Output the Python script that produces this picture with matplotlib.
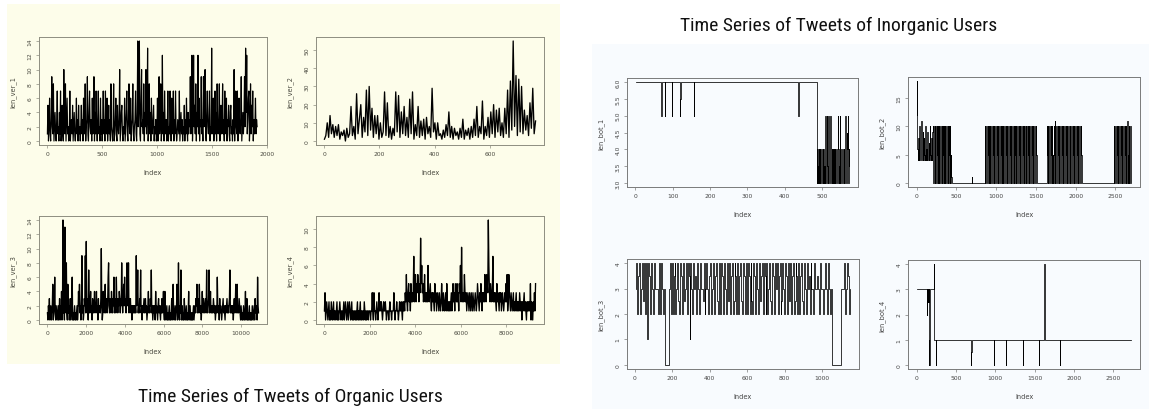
import matplotlib
matplotlib.use("Agg")
import matplotlib.pyplot as plt
import numpy as np
from matplotlib.patches import Rectangle
from matplotlib import font_manager as fm

# ---------------- data ----------------
# Organic users (uniformly spaced samples over the index range)
ver1_n = 1910
ver1 = [1,5,0,2,6,1,0,3,9,2,1,8,0,2,4,1,0,3,7,1,
        2,0,4,1,7,0,2,5,1,0,10,2,1,8,0,3,6,1,2,0,
        1,7,0,2,3,1,5,0,2,4,1,0,2,6,1,3,0,5,1,2,
        0,2,5,1,3,0,6,2,1,8,0,2,3,9,1,0,4,7,2,1,
        3,0,6,1,2,9,0,4,1,7,2,0,3,7,1,2,0,6,1,3,
        0,2,7,1,3,0,7,2,1,6,0,2,5,1,3,0,8,2,1,0,
        2,8,0,1,3,6,1,0,5,2,1,3,10,0,2,4,5,1,0,2,
        1,6,0,2,4,7,1,0,3,8,2,1,6,0,2,3,8,1,0,2,
        3,7,1,0,4,14,2,5,14,1,0,6,10,2,3,1,8,0,4,2,
        10,1,3,13,0,2,8,1,4,0,6,2,1,3,5,0,2,1,3,0,
        1,6,0,2,9,1,3,8,0,2,12,1,4,0,7,2,1,3,0,2,
        7,0,2,1,7,3,0,6,1,2,7,0,3,1,7,2,0,1,3,2,
        1,7,0,2,4,1,3,0,2,1,5,0,3,1,6,2,0,4,1,3,
        2,9,1,4,12,0,3,12,2,5,1,8,0,4,2,12,1,6,0,3,
        2,9,1,3,0,9,2,5,10,1,0,4,7,2,1,3,7,0,2,1,
        13,1,3,6,0,2,7,1,4,0,8,2,1,3,8,0,2,5,1,2,
        8,1,3,0,7,2,1,6,0,3,2,5,1,0,4,5,1,2,0,3,
        1,10,0,3,7,2,1,7,0,4,6,2,1,3,9,0,2,4,1,3,
        9,2,13,4,12,1,3,6,7,0,2,8,1,5,2,7,0,3,1,2,
        6,1,3,2]

ver2_n = 765
ver2 = [1,3,10,2,14,4,9,2,8,3,
        9,1,5,3,6,0,7,2,4,19,
        3,8,1,26,4,12,20,2,13,5,
        28,3,30,6,18,2,14,4,14,1,
        10,2,5,27,3,21,2,8,1,7,
        3,27,5,25,2,16,4,19,3,13,
        2,23,4,27,1,9,3,19,2,11,
        3,12,1,13,4,8,2,29,5,10,
        1,10,3,4,1,6,2,9,3,16,
        2,8,1,7,3,5,1,7,2,12,
        1,6,3,7,1,8,2,12,3,19,
        2,8,4,22,1,8,3,13,2,16,
        4,20,2,17,5,18,3,10,2,18,
        4,28,2,33,6,55,8,36,3,34,
        5,30,4,17,6,14,3,21,7,29,
        4,11]

ver3_n = 10900
ver3 = [1,0,2,1,3,0,1,2,0,1,2,5,0,1,2,6,1,0,2,1,
        0,1,2,0,1,3,0,2,1,4,0,2,14,1,3,0,13,2,1,8,
        1,0,5,1,2,0,1,3,0,1,2,6,0,1,0,1,2,0,1,0,
        1,2,0,1,4,2,5,1,2,0,3,9,1,2,0,1,3,2,9,1,
        11,2,1,3,0,7,2,1,2,4,1,2,0,3,2,1,2,4,1,2,
        2,4,1,2,0,3,1,2,2,1,3,10,2,0,1,4,2,1,2,5,
        1,2,3,1,2,6,8,2,1,3,2,1,4,2,1,3,2,6,1,2,
        3,1,6,2,3,1,3,2,4,3,1,3,2,8,3,1,3,5,2,6,
        2,3,1,3,8,2,3,8,1,3,2,3,1,2,0,2,1,2,1,2,
        1,2,1,9,2,3,7,1,2,1,3,2,7,1,2,0,2,1,2,3,
        1,2,3,1,2,0,1,2,4,1,2,1,3,2,7,1,2,0,1,2,
        1,2,0,4,1,2,1,0,2,3,1,2,1,0,2,1,3,1,2,4,
        1,0,4,1,0,1,2,0,1,0,1,2,0,1,0,1,3,0,1,5,
        1,0,1,2,0,1,2,5,0,1,8,1,0,2,1,7,0,1,2,0,
        1,0,3,1,0,1,2,0,1,0,1,4,0,1,2,0,1,0,1,0,
        1,2,0,1,2,1,3,2,5,1,2,3,1,5,2,1,2,0,2,4,
        2,1,3,2,1,2,3,1,7,2,1,2,3,7,1,2,4,1,2,1,
        2,1,3,2,1,2,0,1,2,1,6,2,1,2,0,3,1,2,1,0,
        1,2,3,1,2,1,0,2,1,2,3,1,2,1,2,3,7,1,2,1,
        2,1,2,0,2,3,1,2,5,1,2,5,1,2,1,3,2,1,0,2,
        1,0,1,0,2,1,0,1,4,0,1,3,0,1,0,1,2,0,1,0,
        1,0,2,1,0,1,2,0,3,1,2,1,0,6,2,1]

ver4_n = 9300
ver4 = [1,3,0,1,2,1,0,1,2,0,1,0,2,1,0,1,2,0,1,1,
        0,1,2,0,1,0,1,2,1,0,1,1,0,1,2,0,1,2,1,0,
        1,2,0,1,2,1,0,1,2,0,1,0,1,1,0,1,0,1,2,0,
        1,0,1,2,0,1,0,1,1,0,2,1,0,1,0,1,1,0,1,1,
        1,0,1,1,3,1,0,3,1,1,0,1,2,1,0,1,3,1,2,1,
        2,1,0,1,2,1,1,2,1,0,1,1,1,0,1,2,1,1,0,1,
        1,1,3,1,0,1,1,2,1,1,0,1,2,1,1,2,1,0,2,1,
        2,1,3,2,5,2,1,3,4,2,3,1,4,2,3,2,3,7,2,3,
        5,2,4,3,5,4,2,4,3,9,4,6,3,4,2,3,5,2,3,2,
        3,2,6,3,2,3,4,2,1,3,2,3,2,1,4,2,3,1,2,3,
        2,1,3,2,1,2,4,2,1,3,2,1,2,3,1,4,2,1,2,1,
        2,1,2,3,1,2,4,2,3,1,4,3,2,4,2,3,1,4,3,6,
        2,8,3,2,3,2,5,3,2,3,1,2,3,2,1,3,2,1,3,2,
        1,3,2,1,2,3,2,1,2,4,3,2,1,3,2,4,2,1,3,2,
        3,2,5,3,2,5,4,3,11,6,3,2,4,3,2,3,7,2,3,2,
        3,2,1,4,2,3,2,1,3,2,3,1,2,3,2,1,2,3,2,4,
        2,5,1,2,5,3,2,1,3,2,1,2,3,1,2,1,2,3,1,2,
        1,2,1,3,2,1,2,0,2,1,2,3,1,2,1,0,2,1,2,1,
        2,1,4,0,2,1,0,2,1,3,1,4]

# Inorganic users
bot1_head_idx = [1, 69, 70, 71, 72, 73, 79, 80, 81, 97, 98, 99, 100,
                 119, 120, 121, 122, 156, 157, 158, 159, 436, 437, 438, 439, 486]
bot1_head_val = [6, 6, 5, 6, 5.5, 6, 6, 5, 6, 6, 5, 5.5, 6,
                 6, 5, 5.5, 6, 6, 5, 5.5, 6, 6, 5, 5.5, 6, 6]
bot1_tail_start = 487
bot1_tail = [3,4,3,3.5,4,3,4,3,3,4,3.5,3,4,3,4,3,3,4,3,3.5,
             4,3,5,3,4,3,5,3.5,4,3,5,3,4,3,3.5,5,3,4,3,3.5,
             4,3,4,3,3.5,4,3,3,4,3,3.5,4,3,4,3,5,3,4,3,3.5,
             5,3,4,3,4,3,3.5,4,3,4,3,3,4,3,4,5,3,4,3,4.5,
             3,4,5,3,4,3.5,3.5]

bot2_a_rng = (1, 205)
bot2_a = [12,18,6,4,8,4,10,5,4,8,4,11,5,4,9,4,8,5,4,10,
          4,6,8,4,9,5,4,7,4,10,5,4,8,4,9,5]
bot2_b_rng = (210, 445)
bot2_b = [10,0,5,0, 10,0,5,0, 10,0,5,0, 10,0,5,0, 10,0,5,0,
          10,0,5,0, 10,0,5,0, 10,0,5,0, 10,0,5,0, 10,0,5,0,
          10,0,5,0, 10,0,5,0, 10,0,5,0, 10,0,5,0, 10,0,5,0,
          4,1,0]
bot2_c_idx = [450, 698, 700, 702, 858]
bot2_c_val = [0, 0, 1, 0, 0]
bot2_d_rng = (862, 1510)
bot2_d = [10,0,5,0, 10,0,5,0, 10,0,5,0, 10,0,5,0, 10,0,5,0,
          10,0,5,0, 10,0,5,0, 10,0,5,0, 10,0,5,0, 10,0,5,0,
          10,0,5,0, 10,0,5,0, 10,0,5,0, 10,0,5,0, 10,0,5,0,
          10,0,5,0, 10,0,5,0, 10,0,5,0, 10,0,5,0, 10,0,5,0,
          10,0,5,0, 10,0,5,0, 10,0,5,0, 10,0,5,0, 10,0,5,0,
          10,0,5,0, 10,0,5,0, 10,0,5,0, 10,0,5,0, 10,0,5,0,
          10,0,5,0, 10,0,5,0, 10,0,5,0, 10,0,5,0, 10,0,5,0,
          10,0,5,0, 10,0,5,0, 10,0,5,0, 10,0,5,0, 10,0,5,0]
bot2_e_idx = [1512, 1636]
bot2_e_val = [0, 0]
bot2_f_rng = (1638, 2078)
bot2_f = [10,0,5,0, 10,0,5,0, 10,0,5,0, 10,0,5,0, 10,0,5,0,
          10,0,5,0, 11,0,5,0, 10,0,5,0, 10,0,5,0, 10,0,5,0,
          10,0,5,0, 10,0,5,0, 10,0,5,0, 10,0,5,0, 10,0,5,0,
          10,0,5,0, 10,0,5,0, 10,0,5,0, 10,0,5,0, 10,0,5,0,
          10,0,5,0, 10,0,5,0, 10,0,5,0, 10,0,5,0, 10,0,5,0,
          10,0,5,0]
bot2_g_idx = [2080, 2478]
bot2_g_val = [0, 0]
bot2_h_rng = (2482, 2700)
bot2_h = [10,0,5,0, 10,0,5,0, 10,0,5,0, 10,0,5,0, 10,0,5,0,
          10,0,5,0, 10,0,5,0, 10,0,5,0, 10,0,5,0, 10,0,5,0,
          11,0,5,0, 10,0,5,0, 10,0,5,0]

bot3_rng = (5, 1150)
bot3 = [3,4,2,3.5,4,2,3,4,2.5,4,3.5,2,4,1,4,3.5,2,4,3,2,
        4,3,3,3,2,4,3,2,4,3,2,3,0,0,0,0,3,4,2,4,
        2,3.5,4,2,3,4,2.5,2,4,3.5,2,4,2.5,3,4,2,4,3.5,1,4,
        3,2,4,3,3.5,2,4,3,2,4,3,3,2.5,4,2,3,4,3,2,3.5,
        4,2,3,4,2,3.5,4,2.5,2,4,3,2,4,3.5,2,4,3,2,4,2.5,
        4,2,3.5,4,2,2.5,4,3.5,2,4,2,3.5,4,2.5,2,4,3.5,2,4,2,
        4,3.5,2,4,2.5,2,4,3.5,2,4,3,2,4,2.5,3.5,4,2,4,3.5,2,
        4,2,3,4,2.5,2,4,3.5,2,4,3,4,2,3.5,4,2,2.5,4,3,2,
        4,3.5,2,4,2.5,4,2,3.5,4,2,2.5,4,3.5,2,4,2,3.5,4,2.5,2,
        4,3,2,4,3,3.5,2,4,3,3,2,4,3,3,3.5,3,2,4,3,3,
        2,3,4,3,3,2,4,3,2,3,0,0,0,0,0,0,0,0,0,0,
        3,3,3,4,2,3,4,3.5,2,3]

bot4_idx = [1, 128, 130, 132, 135, 137, 142, 145, 152, 155, 160, 162, 164, 166,
            224, 226, 228, 246, 248, 250, 692, 694, 696, 698, 700, 978, 980, 982,
            1133, 1135, 1137, 1139, 1352, 1354, 1356, 1552, 1554, 1556,
            1624, 1626, 1628, 1824, 1826, 1828, 2730]
bot4_val = [3, 3, 2.5, 3, 2, 3, 2.5, 3, 2.5, 3, 0, 1, 0, 3,
            3, 4, 1, 1, 0, 1, 1, 0.5, 0, 0.5, 1, 1, 0, 1,
            1, 0.5, 0, 1, 1, 0, 1, 1, 0, 1,
            1, 4, 1, 1, 0, 1, 1]

titles = ["Time Series of Tweets of Organic Users",
          "Time Series of Tweets of Inorganic Users"]

# ---------------- figure ----------------
W, H = 1149, 410
fig = plt.figure(figsize=(W / 100, H / 100), dpi=100)
fig.patch.set_facecolor("white")


def rect_px(l, t, r, b):
    return [l / W, 1 - b / H, (r - l) / W, (b - t) / H]


fig.add_artist(Rectangle((7 / W, 1 - 365 / H), (560 - 7) / W, (365 - 5) / H,
                         transform=fig.transFigure, facecolor="#FDFDEA",
                         edgecolor="none", zorder=0))
fig.add_artist(Rectangle((592 / W, 0), (W - 592) / W, (H - 45) / H,
                         transform=fig.transFigure, facecolor="#F8FBFE",
                         edgecolor="none", zorder=0))


def rplot(box, segments, ylabel, xticks, yticks, yticklabels, boxcol, txtcol,
          steps=False, lw=0.5):
    ax = fig.add_axes(rect_px(*box))
    ax.set_facecolor("none")
    for xs, ys in segments:
        ax.plot(xs, ys, color="black", lw=lw,
                drawstyle="steps-mid" if steps else "default")
    ax.margins(x=0.04, y=0.04)
    ax.set_xticks(xticks)
    ax.set_xticklabels([str(t) for t in xticks])
    ax.set_yticks(yticks)
    ax.set_yticklabels(yticklabels, rotation=90, va="center")
    for s in ax.spines.values():
        s.set_color(boxcol)
        s.set_linewidth(0.7)
    ax.tick_params(direction="out", length=2.5, width=0.5, colors=boxcol,
                   labelsize=4.3, labelcolor=txtcol, pad=2)
    ax.set_xlabel("Index", fontsize=4.8, color=txtcol, labelpad=9)
    ax.set_ylabel(ylabel, fontsize=4.8, color=txtcol, labelpad=8)
    return ax


def uni(vals, n):
    return np.linspace(1, n, len(vals))


def rng(vals, r):
    return np.linspace(r[0], r[1], len(vals))


org_box = "#8E8E80"
org_txt = "#4A4A40"
rplot((39, 38, 267, 146), [(uni(ver1, ver1_n), ver1)], "len_ver_1",
      [0, 500, 1000, 1500, 2000], list(range(0, 15, 2)),
      [str(v) for v in range(0, 15, 2)], org_box, org_txt, lw=0.85)
rplot((316, 38, 544, 146), [(uni(ver2, ver2_n), ver2)], "len_ver_2",
      [0, 200, 400, 600], list(range(0, 51, 10)),
      [str(v) for v in range(0, 51, 10)], org_box, org_txt, lw=0.95)
rplot((39, 217, 267, 325), [(uni(ver3, ver3_n), ver3)], "len_ver_3",
      [0, 2000, 4000, 6000, 8000, 10000], list(range(0, 15, 2)),
      [str(v) for v in range(0, 15, 2)], org_box, org_txt, lw=0.95)
rplot((316, 217, 544, 325), [(uni(ver4, ver4_n), ver4)], "len_ver_4",
      [0, 2000, 4000, 6000, 8000], list(range(0, 11, 2)),
      [str(v) for v in range(0, 11, 2)], org_box, org_txt, lw=0.95)

bot_box = "#7A7A7A"
bot_txt = "#444444"
b1_x = list(bot1_head_idx) + list(range(bot1_tail_start, bot1_tail_start + len(bot1_tail)))
b1_y = list(bot1_head_val) + list(bot1_tail)
rplot((627, 79, 858, 188), [(b1_x, b1_y)], "len_bot_1",
      [0, 100, 200, 300, 400, 500], [3.0, 3.5, 4.0, 4.5, 5.0, 5.5, 6.0],
      ["3.0", "3.5", "4.0", "4.5", "5.0", "5.5", "6.0"], bot_box, bot_txt,
      steps=True, lw=0.55)

b2_x = np.concatenate([rng(bot2_a, bot2_a_rng), rng(bot2_b, bot2_b_rng), bot2_c_idx,
                       rng(bot2_d, bot2_d_rng), bot2_e_idx, rng(bot2_f, bot2_f_rng),
                       bot2_g_idx, rng(bot2_h, bot2_h_rng)])
b2_y = np.concatenate([bot2_a, bot2_b, bot2_c_val, bot2_d, bot2_e_val, bot2_f,
                       bot2_g_val, bot2_h])
rplot((908, 78, 1140, 188), [(b2_x, b2_y)], "len_bot_2",
      [0, 500, 1000, 1500, 2000, 2500], [0, 5, 10, 15],
      ["0", "5", "10", "15"], bot_box, bot_txt, steps=True, lw=0.55)

rplot((627, 260, 859, 370), [(rng(bot3, bot3_rng), bot3)], "len_bot_3",
      [0, 200, 400, 600, 800, 1000], [0, 1, 2, 3, 4],
      ["0", "1", "2", "3", "4"], bot_box, bot_txt, steps=True, lw=0.55)

rplot((908, 261, 1140, 370), [(bot4_idx, bot4_val)], "len_bot_4",
      [0, 500, 1000, 1500, 2000, 2500], [0, 1, 2, 3, 4],
      ["0", "1", "2", "3", "4"], bot_box, bot_txt, steps=True, lw=0.55)


# ---- title font: pick an upright condensed / narrow face if one is installed ----
def pick_condensed():
    fl = [f for f in fm.fontManager.ttflist if f.style == "normal"]
    bad = ("Italic", "Oblique", "Bold", "Light", "Thin", "Black",
           "SemiBold", "ExtraBold", "Medium")
    prefs = ["Roboto Condensed", "Open Sans Condensed", "Liberation Sans Narrow",
             "DejaVu Sans Condensed", "Noto Sans Condensed"]
    for p in prefs:
        for f in fl:
            if f.name == p and not any(b in f.fname for b in bad):
                return fm.FontProperties(fname=f.fname)
    for f in fl:
        st = str(f.stretch)
        if (st in ("condensed", "semi-condensed", "extra-condensed")
                or "Condensed" in f.fname or "Narrow" in f.fname) \
                and not any(b in f.fname for b in bad):
            return fm.FontProperties(fname=f.fname)
    return fm.FontProperties(family="DejaVu Sans")


tprop = pick_condensed()
tprop.set_size(14)
fig.text(290 / W, 1 - 397 / H, titles[0], ha="center", va="center",
         fontproperties=tprop, color="#111111")
fig.text(839 / W, 1 - 26 / H, titles[1], ha="center", va="center",
         fontproperties=tprop, color="#111111")

fig.savefig("out.png", dpi=100, facecolor=fig.get_facecolor())
